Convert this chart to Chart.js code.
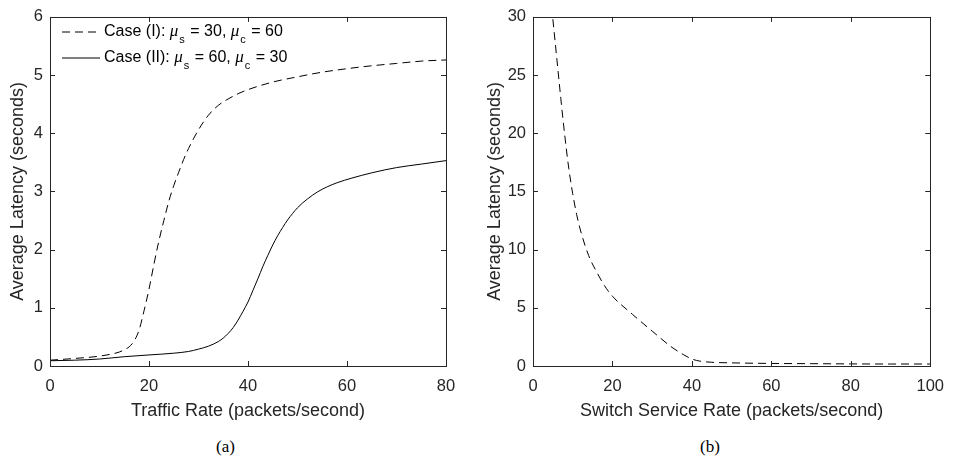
<!DOCTYPE html>
<html>
<head>
<meta charset="utf-8">
<script src="https://cdn.jsdelivr.net/npm/chart.js@4.4.1/dist/chart.umd.min.js"></script>
<style>
  body { margin: 0; background: #fff; width: 955px; height: 462px; position: relative; overflow: hidden;
         font-family: "Liberation Sans", Arial, sans-serif; }
  canvas { position: absolute; top: 0; }
  #chartA { left: 0; }
  #chartB { left: 477px; }
  .leg { position: absolute; left: 62px; height: 20px; display: flex; align-items: center;
         font-size: 16px; color: #000; white-space: nowrap; }
  .leg svg { margin-right: 4px; }
  .leg i { font-family: "Liberation Serif", "Times New Roman", serif; font-size: 17px; }
  .leg sub { font-size: 11px; position: relative; top: 2px; margin-left: 1px; margin-right: 1px; }
  .cap { position: absolute; top: 437px; font-family: "Liberation Serif", "Times New Roman", serif;
         font-size: 17px; color: #000; }
</style>
</head>
<body>
<canvas id="chartA" width="477" height="430"></canvas>
<canvas id="chartB" width="478" height="430"></canvas>

<div class="leg" style="top:22px">
  <svg width="38" height="4"><line x1="0" y1="2" x2="38" y2="2" stroke="#000" stroke-width="1" stroke-dasharray="8,5"/></svg>
  <span>Case (I): <i>&mu;</i><sub>s</sub> = 30, <i>&mu;</i><sub>c</sub> = 60</span>
</div>
<div class="leg" style="top:48px">
  <svg width="38" height="4"><line x1="0" y1="2" x2="38" y2="2" stroke="#000" stroke-width="1"/></svg>
  <span>Case (II): <i>&mu;</i><sub>s</sub> = 60, <i>&mu;</i><sub>c</sub> = 30</span>
</div>

<div class="cap" style="left:216px">(a)</div>
<div class="cap" style="left:700px">(b)</div>

<script>
/* ===== DATA ===== */
const caseIX = [0, 5, 10, 14, 15, 16, 17, 18, 19, 20, 21, 22, 23, 24, 25, 26, 27, 28, 30, 32, 34, 36, 38, 40, 45, 50, 55, 60, 65, 70, 75, 80];
const caseIY = [0.10, 0.13, 0.17, 0.24, 0.28, 0.33, 0.43, 0.62, 0.95, 1.32, 1.75, 2.15, 2.50, 2.83, 3.10, 3.33, 3.55, 3.74, 4.06, 4.31, 4.48, 4.59, 4.68, 4.75, 4.88, 4.97, 5.05, 5.11, 5.16, 5.20, 5.24, 5.26];

const caseIIX = [0, 5, 10, 15, 20, 25, 28, 30, 32, 34, 35, 36, 37, 38, 39, 40, 41, 42, 43, 44, 45, 46, 47, 48, 49, 50, 52, 54, 56, 58, 61, 65, 70, 75, 80];
const caseIIY = [0.09, 0.10, 0.12, 0.16, 0.19, 0.22, 0.25, 0.29, 0.34, 0.42, 0.48, 0.56, 0.66, 0.79, 0.94, 1.10, 1.30, 1.50, 1.71, 1.90, 2.08, 2.24, 2.38, 2.51, 2.62, 2.72, 2.87, 2.99, 3.08, 3.15, 3.23, 3.32, 3.41, 3.47, 3.53];

const switchX = [5, 6, 7, 8, 9, 10, 11, 12, 14, 16, 18, 20, 25, 30, 35, 38, 40, 42, 45, 50, 60, 70, 80, 90, 100];
const switchY = [29.8, 26.4, 23.0, 19.8, 17.0, 14.8, 13.0, 11.6, 9.5, 8.1, 6.9, 6.0, 4.45, 3.0, 1.6, 0.95, 0.6, 0.42, 0.32, 0.27, 0.22, 0.20, 0.18, 0.17, 0.17];

const xTicksA = [0, 20, 40, 60, 80];
const yTicksA = [0, 1, 2, 3, 4, 5, 6];
const xTicksB = [0, 20, 40, 60, 80, 100];
const yTicksB = [0, 5, 10, 15, 20, 25, 30];

/* ===== HELPERS ===== */
const AXIS_COLOR = "#262626";
const TICK_FONT = { family: "'Liberation Sans', Arial, sans-serif", size: 16.5 };
const TITLE_FONT = { family: "'Liberation Sans', Arial, sans-serif", size: 18 };

function pts(xs, ys) {
  return xs.map((x, i) => ({ x: x, y: ys[i] }));
}

// MATLAB style box with inward ticks on all four sides
const boxPlugin = {
  id: "box",
  afterDraw(chart) {
    const { ctx, chartArea: a, scales } = chart;
    const len = 5;
    ctx.save();
    ctx.strokeStyle = AXIS_COLOR;
    ctx.lineWidth = 1;
    ctx.strokeRect(Math.round(a.left) + 0.5, Math.round(a.top) + 0.5,
                   Math.round(a.right - a.left), Math.round(a.bottom - a.top));
    ctx.beginPath();
    scales.x.ticks.forEach(t => {
      const px = Math.round(scales.x.getPixelForValue(t.value)) + 0.5;
      ctx.moveTo(px, a.bottom); ctx.lineTo(px, a.bottom - len);
      ctx.moveTo(px, a.top); ctx.lineTo(px, a.top + len);
    });
    scales.y.ticks.forEach(t => {
      const py = Math.round(scales.y.getPixelForValue(t.value)) + 0.5;
      ctx.moveTo(a.left, py); ctx.lineTo(a.left + len, py);
      ctx.moveTo(a.right, py); ctx.lineTo(a.right - len, py);
    });
    ctx.stroke();
    ctx.restore();
  }
};

function makeChart(id, datasets, xTicks, yTicks, xTitle, yWidth, pad) {
  const xr = [xTicks[0], xTicks[xTicks.length - 1]];
  const yr = [yTicks[0], yTicks[yTicks.length - 1]];
  return new Chart(document.getElementById(id), {
    type: "line",
    data: { datasets: datasets },
    options: {
      responsive: false,
      animation: false,
      layout: { padding: pad },
      plugins: { legend: { display: false }, tooltip: { enabled: false } },
      elements: { point: { radius: 0 } },
      scales: {
        x: {
          type: "linear", min: xr[0], max: xr[1],
          afterBuildTicks: s => { s.ticks = xTicks.map(v => ({ value: v })); },
          afterFit: s => { s.height = 64; },
          grid: { display: false, drawTicks: false },
          border: { display: false },
          ticks: { color: AXIS_COLOR, font: TICK_FONT, padding: 11, maxRotation: 0 },
          title: { display: true, text: xTitle, color: AXIS_COLOR, font: TITLE_FONT, padding: { top: 8, bottom: 8 } }
        },
        y: {
          type: "linear", min: yr[0], max: yr[1],
          afterBuildTicks: s => { s.ticks = yTicks.map(v => ({ value: v })); },
          afterFit: s => { s.width = yWidth; },
          grid: { display: false, drawTicks: false },
          border: { display: false },
          ticks: { color: AXIS_COLOR, font: TICK_FONT, padding: 7 },
          title: { display: true, text: "Average Latency (seconds)", color: AXIS_COLOR, font: TITLE_FONT, padding: { top: 7, bottom: 7 } }
        }
      }
    },
    plugins: [boxPlugin]
  });
}

const lineStyle = { borderColor: "#000", borderWidth: 1, fill: false, cubicInterpolationMode: "monotone" };

makeChart("chartA", [
  Object.assign({ label: "Case (I)", data: pts(caseIX, caseIY), borderDash: [8, 5] }, lineStyle),
  Object.assign({ label: "Case (II)", data: pts(caseIIX, caseIIY) }, lineStyle)
], xTicksA, yTicksA, "Traffic Rate (packets/second)", 50, { top: 13, right: 31, bottom: 0, left: 0 });

makeChart("chartB", [
  Object.assign({ label: "Switch", data: pts(switchX, switchY), borderDash: [8, 5] }, lineStyle)
], xTicksB, yTicksB, "Switch Service Rate (packets/second)", 56, { top: 11, right: 19, bottom: 0, left: 0 });
</script>
</body>
</html>
